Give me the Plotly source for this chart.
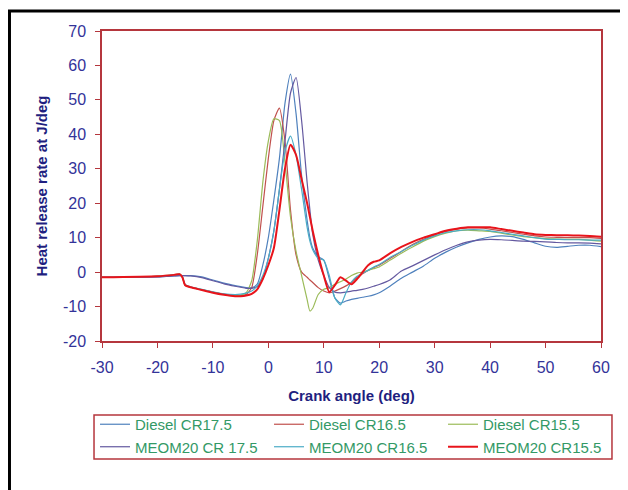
import plotly.graph_objects as go

crank_angle = [-30, -20, -17, -16, -15.5, -15, -14, -12, -10, -8, -6, -5, -4, -3, -2, -1, 0, 1, 2, 3,
               4, 5, 6, 7, 7.5, 8, 9, 10, 11, 12, 13, 14, 15, 16, 17, 18, 19, 20, 22, 24,
               26, 28, 30, 32, 34, 36, 38, 40, 42, 44, 46, 48, 50, 52, 54, 56, 58, 60]

diesel_cr175 = [-1.5, -1.4, -1.1, -1.0, -1.0, -1.0, -1.0, -1.4, -2.3, -3.2, -3.9, -4.2, -4.5, -4.5, -3.5, 2, 10, 21, 33, 49,
                57.5, 46, 28, 15, 10, 7, 4.5, 3.5, -2, -7.5, -9.0, -8.4, -7.9, -7.6, -7.3, -7, -6.6, -6, -4, -1.8,
                0, 1.8, 4, 5.8, 7.3, 8.5, 9.5, 10.2, 10.5, 10.3, 9.5, 8.5, 7.5, 7.2, 7.5, 7.8, 7.8, 7.4]

diesel_cr165 = [-1.5, -1.2, -0.8, -0.6, -1.5, -3.8, -4.4, -5.1, -5.8, -6.4, -6.8, -6.8, -6.5, -4.5, 5, 19, 33, 44, 47.6, 38,
                18, 5, 0, -1.5, -2.3, -3, -4.5, -5.5, -6, -5.5, -4.8, -4, -3, -1.5, -0.5, 0.5, 1.3, 2, 4, 6,
                8, 9.5, 10.8, 11.8, 12.5, 12.8, 12.8, 12.5, 12, 11.5, 11, 10.5, 10.2, 10.1, 10, 10, 10, 9.8]

diesel_cr155 = [-1.5, -1.2, -0.8, -0.6, -1.5, -3.9, -4.4, -5.1, -5.9, -6.5, -6.8, -6.7, -6, -2.5, 9, 26, 38, 44.5, 44, 32,
                16, 6, -1, -8, -11.3, -10.5, -6.5, -5, -4.5, -3.5, -2.8, -2, -1, -0.3, 0, 0.5, 1, 1.5, 3.5, 5.5,
                7.3, 9, 10.3, 11.3, 12, 12.2, 12, 11.8, 11.3, 10.8, 10.3, 10, 9.7, 9.6, 9.5, 9.5, 9.3, 9]

meom20_cr175 = [-1.5, -1.4, -1.1, -1.0, -1.0, -1.0, -1.1, -1.6, -2.5, -3.4, -4.1, -4.4, -4.7, -4.7, -4.2, -2, 4, 12, 24, 38,
                52, 56.5, 44, 26, 18, 11, 3.5, -1, -4.5, -5.8, -6, -5.8, -5.5, -5.3, -5, -4.6, -4.1, -3.6, -2.2, 0.3,
                1.8, 3.4, 5, 6.5, 7.8, 8.8, 9.3, 9.5, 9.4, 9.2, 9, 8.9, 8.8, 8.6, 8.5, 8.5, 8.4, 8.2]

meom20_cr165 = [-1.5, -1.2, -0.8, -0.7, -1.4, -3.6, -4.3, -5.0, -5.7, -6.3, -6.5, -6.4, -6.1, -5.5, -4, -1, 4, 12, 24, 35,
                39.5, 34, 24, 13, 9, 6.5, 4, 3.5, -1, -7.5, -9.5, -6, -2.8, -1.2, -0.3, 0.5, 1.5, 2.2, 4.3, 6,
                7.8, 9.3, 10.5, 11.5, 12, 12.3, 12.3, 12, 11.5, 11, 10.5, 10, 9.6, 9.5, 9.4, 9.4, 9.3, 9.3]

meom20_cr155 = [-1.5, -1.2, -0.8, -0.6, -1.5, -3.8, -4.4, -5.2, -6.0, -6.6, -7, -7, -6.8, -6.3, -5, -2, 2, 7, 18, 30,
                37, 34, 27, 20, 16, 12, 5, -1, -5.8, -3.8, -1.5, -2.5, -3.5, -2, 0, 2, 3, 3.4, 5.5, 7.3,
                8.8, 10, 11, 12, 12.6, 13, 13, 13, 12.5, 12, 11.5, 11, 10.8, 10.7, 10.7, 10.6, 10.5, 10.3]

series_names = ["Diesel CR17.5", "Diesel CR16.5", "Diesel CR15.5",
                "MEOM20 CR 17.5", "MEOM20 CR16.5", "MEOM20 CR15.5"]
series_values = [diesel_cr175, diesel_cr165, diesel_cr155, meom20_cr175, meom20_cr165, meom20_cr155]
series_colors = ["#4f81bd", "#c0504d", "#9bbb59", "#6459a0", "#4bacc6", "#e8141b"]
series_widths = [1.2, 1.2, 1.2, 1.2, 1.2, 2]

x_ticks = [-30, -20, -10, 0, 10, 20, 30, 40, 50, 60]
x_tick_labels = ["-30", "-20", "-10", "0", "10", "20", "30", "40", "50", "60"]
y_ticks = [-20, -10, 0, 10, 20, 30, 40, 50, 60, 70]
y_tick_labels = ["-20", "-10", "0", "10", "20", "30", "40", "50", "60", "70"]

axis_red = "#b5363d"
tick_color = "#333399"
title_color = "#1f1f80"
font_family = "Liberation Sans, Arial, sans-serif"

fig = go.Figure()
for name, vals, col, w in zip(series_names, series_values, series_colors, series_widths):
    fig.add_trace(go.Scatter(x=crank_angle, y=vals, mode="lines", name=name,
                             line=dict(color=col, width=w, shape="spline", smoothing=0.6)))

fig.update_layout(
    width=620, height=482,
    margin=dict(l=94, r=27, t=23, b=149),
    paper_bgcolor="white", plot_bgcolor="white",
    font=dict(family=font_family),
    legend=dict(orientation="h", x=-0.014, y=-0.2161, xanchor="left", yanchor="top",
                borderwidth=0, bgcolor="rgba(0,0,0,0)",
                entrywidth=129, entrywidthmode="pixels",
                font=dict(size=15, color="#339966", family=font_family)),
    xaxis=dict(range=[-30, 60], tickvals=x_ticks, ticktext=x_tick_labels, showline=True, linecolor=axis_red,
               linewidth=1.5, mirror=True, ticks="outside", ticklen=5, tickcolor=axis_red, showgrid=False,
               zeroline=False, tickfont=dict(size=16, color=tick_color), ticklabelstandoff=6,
               title=dict(text="<b>Crank angle (deg)</b>", font=dict(size=15, color=title_color), standoff=16)),
    yaxis=dict(range=[-20, 70], tickvals=y_ticks, ticktext=y_tick_labels, showline=True, linecolor=axis_red,
               linewidth=1.5, mirror=True, ticks="outside", ticklen=5, tickcolor=axis_red, showgrid=False,
               zeroline=False, tickfont=dict(size=16, color=tick_color), ticklabelstandoff=6,
               title=dict(text="<b>Heat release rate at J/deg</b>", font=dict(size=15, color=title_color), standoff=12)),
    shapes=[
        dict(type="line", xref="paper", yref="paper", x0=-0.19, x1=1.07, y0=1.0645, y1=1.0645,
             line=dict(color="black", width=3)),
        dict(type="line", xref="paper", yref="paper", x0=-0.1854, x1=-0.1854, y0=1.0645, y1=-0.49,
             line=dict(color="black", width=3)),
        dict(type="rect", xref="paper", yref="paper", x0=-0.016, x1=1.022, y0=-0.2387, y1=-0.3806,
             line=dict(color=axis_red, width=1.5), fillcolor="rgba(0,0,0,0)"),
    ],
)

fig.write_html("out.html")
